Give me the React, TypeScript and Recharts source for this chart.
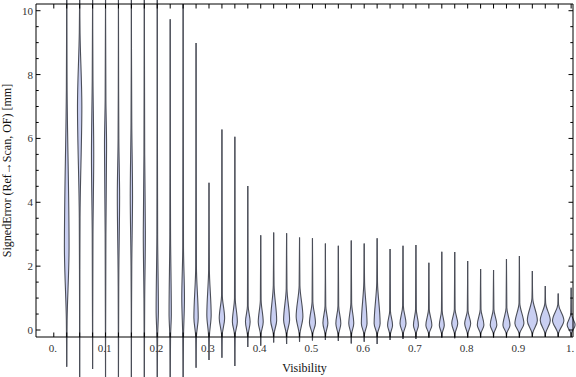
import { ComposedChart, Area, XAxis, YAxis } from "recharts";

// violin centres on the Visibility axis
const visibility = [
  0.025, 0.05, 0.075, 0.1, 0.125, 0.15, 0.175, 0.2, 0.225, 0.25,
  0.275, 0.3, 0.325, 0.35, 0.375, 0.4, 0.425, 0.45, 0.475, 0.5,
  0.525, 0.55, 0.575, 0.6, 0.625, 0.65, 0.675, 0.7, 0.725, 0.75,
  0.775, 0.8, 0.825, 0.85, 0.875, 0.9, 0.925, 0.95, 0.975, 1.0,
];

// lowest / highest signed error of each violin [mm]
const errLow = [
  -1.15, -1.6, -1.22, -1.6, -1.6, -1.6, -1.6, -1.6, -1.6, -1.6,
  -1.18, -0.94, -0.87, -1.13, -0.53, -0.49, -0.39, -0.44, -0.37, -0.33,
  -0.31, -0.34, -0.42, -0.37, -0.44, -0.31, -0.28, -0.28, -0.24, -0.24,
  -0.26, -0.24, -0.24, -0.24, -0.24, -0.24, -0.21, -0.21, -0.21, -0.21,
];
const errHigh = [
  10.5, 10.5, 10.5, 10.5, 10.5, 10.5, 10.5, 10.5, 9.73, 10.2,
  8.99, 4.61, 6.28, 6.05, 4.51, 2.97, 3.05, 3.03, 2.9, 2.87,
  2.71, 2.64, 2.8, 2.71, 2.87, 2.54, 2.64, 2.66, 2.11, 2.45,
  2.44, 2.16, 1.91, 1.88, 2.22, 2.32, 1.85, 1.38, 1.14, 1.32,
];

// where the body of each violin starts, peaks and ends [mm]
const bodyLow = [
  0.3, 3.5, 3.0, 3.0, 1.8, 2.0, 1.0, -0.2, -0.2, -0.2,
  -0.2, -0.2, -0.15, -0.15, -0.15, -0.12, -0.12, -0.12, -0.12, -0.12,
  -0.12, -0.12, -0.12, -0.12, -0.12, -0.12, -0.1, -0.1, -0.1, -0.1,
  -0.1, -0.1, -0.1, -0.1, -0.1, -0.1, -0.1, -0.1, -0.1, -0.1,
];
const bodyMode = [
  2.6, 7.0, 5.5, 5.8, 4.2, 4.2, 3.0, 0.6, 0.5, 1.0,
  0.38, 0.47, 0.37, 0.26, 0.26, 0.25, 0.3, 0.31, 0.42, 0.22,
  0.22, 0.2, 0.2, 0.2, 0.2, 0.15, 0.2, 0.15, 0.15, 0.15,
  0.2, 0.2, 0.16, 0.16, 0.15, 0.2, 0.3, 0.3, 0.3, 0.16,
];
const bodyHigh = [
  7.5, 9.3, 7.8, 7.2, 6.0, 6.5, 5.5, 3.0, 3.0, 2.6,
  2.0, 1.9, 1.1, 1.0, 0.75, 0.95, 1.4, 1.3, 1.4, 0.9,
  0.75, 0.75, 0.85, 1.5, 1.5, 0.6, 0.75, 0.65, 0.65, 0.6,
  0.65, 0.6, 0.65, 0.65, 0.7, 0.85, 1.0, 0.85, 0.8, 0.5,
];
// half width of the violin at its mode, in Visibility units
const bodyHalfWidth = [
  0.0045, 0.0042, 0.0022, 0.002, 0.0022, 0.0022, 0.002, 0.0022, 0.0022, 0.0026,
  0.0042, 0.0042, 0.0052, 0.0048, 0.0045, 0.0048, 0.0058, 0.0058, 0.0065, 0.0058,
  0.0048, 0.0048, 0.0048, 0.0055, 0.0058, 0.0048, 0.0058, 0.0048, 0.0058, 0.0048,
  0.0058, 0.0058, 0.0064, 0.0064, 0.0068, 0.0087, 0.0097, 0.0097, 0.011, 0.0077,
];

const xTicks = [0, ...visibility];
const yTicks = [
  0, 0.5, 1, 1.5, 2, 2.5, 3, 3.5, 4, 4.5, 5, 5.5, 6, 6.5, 7, 7.5, 8, 8.5, 9, 9.5, 10,
];

const TAIL = 0.0007;
const FONT = "'Liberation Serif', 'Times New Roman', serif";

const violins = visibility.map((p, i) => [
  { e: errLow[i], w: [p, p] },
  { e: bodyLow[i], w: [p - TAIL, p + TAIL] },
  { e: bodyMode[i], w: [p - bodyHalfWidth[i], p + bodyHalfWidth[i]] },
  { e: bodyHigh[i], w: [p - TAIL, p + TAIL] },
  { e: errHigh[i], w: [p, p] },
]);

const isMajorX = (v: number) => Math.abs(v * 10 - Math.round(v * 10)) < 1e-6;
const fmtX = (v: number) => (v === 0 ? "0." : v === 1 ? "1." : v.toFixed(1));

const BottomTick = ({ x, y, payload }: any) => {
  const v = payload.value;
  return (
    <g>
      <line x1={x} x2={x} y1={y} y2={y - 4.5} stroke="#000" />
      {isMajorX(v) && (
        <text x={x - 1} y={y + 15} textAnchor="middle" fontSize={11} fontFamily={FONT} fill="#333">
          {fmtX(v)}
        </text>
      )}
    </g>
  );
};

const TopTick = ({ x, y }: any) => (
  <line x1={x} x2={x} y1={y} y2={y + 4.5} stroke="#000" />
);

const LeftTick = ({ x, y, payload }: any) => {
  const v = payload.value;
  const major = Number.isInteger(v) && v % 2 === 0;
  return (
    <g>
      <line x1={x} x2={x + (major ? 4.5 : 2.7)} y1={y} y2={y} stroke="#000" />
      {major && (
        <text x={x - 3} y={y + 4} textAnchor="end" fontSize={11} fontFamily={FONT} fill="#333">
          {v}
        </text>
      )}
    </g>
  );
};

const RightTick = ({ x, y, payload }: any) => {
  const v = payload.value;
  const major = Number.isInteger(v) && v % 2 === 0;
  return <line x1={x} x2={x - (major ? 4.5 : 2.7)} y1={y} y2={y} stroke="#000" />;
};

export default function App() {
  return (
    <div style={{ position: "absolute", left: 0, top: 0, background: "#fff" }}>
      <style>{"svg [clip-path]{clip-path:none !important;}"}</style>
      <ComposedChart
        layout="vertical"
        width={576}
        height={377}
        margin={{ top: 3, right: 2, bottom: 0, left: 0 }}
      >
        <XAxis
          xAxisId="b"
          type="number"
          orientation="bottom"
          height={40}
          domain={[-0.0344, 1.0036]}
          allowDataOverflow
          ticks={xTicks}
          interval={0}
          tickSize={0}
          tickMargin={0}
          tickLine={false}
          tick={BottomTick}
          axisLine={{ stroke: "#000" }}
          label={{
            value: "Visibility",
            position: "insideBottom",
            offset: 5,
            fontSize: 12,
            fontFamily: FONT,
            fill: "#111",
          }}
        />
        <XAxis
          xAxisId="t"
          type="number"
          orientation="top"
          height={1}
          domain={[-0.0344, 1.0036]}
          allowDataOverflow
          ticks={xTicks}
          interval={0}
          tickSize={0}
          tickMargin={0}
          tickLine={false}
          tick={TopTick}
          axisLine={{ stroke: "#000" }}
        />
        <YAxis
          yAxisId="l"
          type="number"
          dataKey="e"
          reversed
          width={36}
          domain={[-0.219, 10.21]}
          allowDataOverflow
          ticks={yTicks}
          interval={0}
          tickSize={0}
          tickMargin={0}
          tickLine={false}
          tick={LeftTick}
          axisLine={{ stroke: "#000" }}
          label={{
            content: ({ viewBox }: any) => {
              const cx = viewBox.x + 11;
              const cy = viewBox.y + viewBox.height / 2;
              return (
                <text
                  x={cx}
                  y={cy}
                  transform={`rotate(-90 ${cx} ${cy})`}
                  textAnchor="middle"
                  fontSize={12}
                  fontFamily={FONT}
                  fill="#111"
                >
                  SignedError (Ref→Scan, OF) [mm]
                </text>
              );
            },
          }}
        />
        <YAxis
          yAxisId="r"
          type="number"
          dataKey="e"
          reversed
          orientation="right"
          width={1}
          domain={[-0.219, 10.21]}
          allowDataOverflow
          ticks={yTicks}
          interval={0}
          tickSize={0}
          tickMargin={0}
          tickLine={false}
          tick={RightTick}
          axisLine={{ stroke: "#000" }}
        />
        {violins.map((rows, i) => (
          <Area
            key={i}
            xAxisId="b"
            yAxisId="l"
            data={rows}
            dataKey="w"
            type="monotone"
            fill="#c9cff2"
            fillOpacity={1}
            stroke="#4b4e58"
            strokeWidth={1.1}
            dot={false}
            activeDot={false}
            isAnimationActive={false}
          />
        ))}
      </ComposedChart>
    </div>
  );
}
